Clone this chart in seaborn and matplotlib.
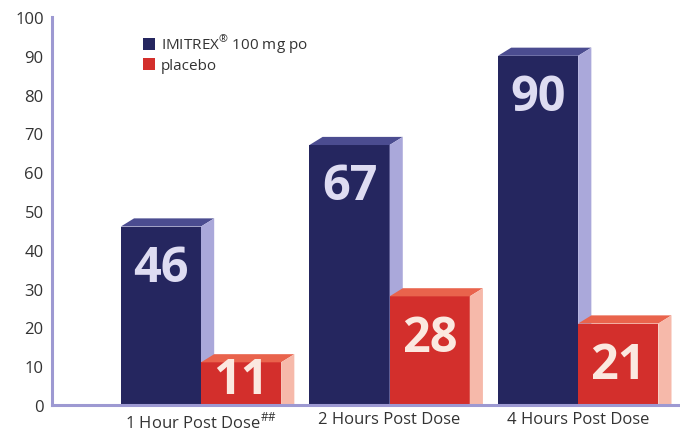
import pandas as pd
import matplotlib.pyplot as plt
import seaborn as sns
from matplotlib.patches import Polygon

# Data
timepoints = ["1 Hour Post Dose$^{\\#\\#}$", "2 Hours Post Dose", "4 Hours Post Dose"]
imitrex = [46, 67, 90]
placebo = [11, 28, 21]
groups = ["IMITREX$^{\\circledR}$ 100 mg po", "placebo"]

# colours: front face, top face, side face, label colour
navy = ["#25265f", "#4b4c90", "#aaa8da", "#dedcf2"]
red = ["#d32f2c", "#e9634c", "#f6b9aa", "#fbe9e0"]
styles = [navy, red]

df = pd.DataFrame({
    "time": timepoints * 2,
    "group": [groups[0]] * 3 + [groups[1]] * 3,
    "value": imitrex + placebo,
})

sns.set_style("white")
plt.rcParams["font.family"] = ["Open Sans", "DejaVu Sans"]
plt.rcParams["mathtext.fontset"] = "custom"
plt.rcParams["mathtext.rm"] = "Open Sans"

fig = plt.figure(figsize=(6.8, 4.31), dpi=100)
ax = fig.add_axes([52 / 680, 25 / 431, 628 / 680, 388 / 431])

sns.barplot(data=df, x="time", y="value", hue="group", palette=[navy[0], red[0]],
            width=0.85, saturation=1, dodge=True, ax=ax, linewidth=0)

ax.set_xlim(-0.79, 2.54)
ax.set_ylim(0, 100)

# fake 3D depth for each bar
dx, dy = 0.07, 2.1
for i, cont in enumerate(ax.containers):
    front, top, side, lab = styles[i]
    for rect in cont:
        rect.set_zorder(2 + i * 2)
        x0, w, h = rect.get_x(), rect.get_width(), rect.get_height()
        ax.add_patch(Polygon([(x0, h), (x0 + dx, h + dy), (x0 + w + dx, h + dy), (x0 + w, h)],
                             closed=True, facecolor=top, edgecolor="none", zorder=2 + i * 2, clip_on=False))
        ax.add_patch(Polygon([(x0 + w, 0), (x0 + w + dx, 0), (x0 + w + dx, h + dy), (x0 + w, h)],
                             closed=True, facecolor=side, edgecolor="none", zorder=2 + i * 2, clip_on=False))
        ax.text(x0 + w / 2, max(h - 14, 3), f"{h:.0f}", ha="center", va="baseline",
                fontsize=35, fontweight="bold", color=lab, zorder=3 + i * 2)

ax.set_yticks(range(0, 101, 10))
ax.tick_params(axis="both", length=0, labelsize=12, labelcolor="#333333")
ax.tick_params(axis="y", pad=6)
ax.tick_params(axis="x", pad=4)
ax.set_xlabel("")
ax.set_ylabel("")

for side in ["top", "right"]:
    ax.spines[side].set_visible(False)
for side in ["left", "bottom"]:
    ax.spines[side].set_color("#9d99d2")
    ax.spines[side].set_linewidth(2.2)
    ax.spines[side].set_zorder(10)

leg = ax.legend(loc="upper left", bbox_to_anchor=(0.135, 0.975), frameon=False,
                fontsize=11, handlelength=0.8, handleheight=0.8, handletextpad=0.4,
                labelspacing=0.2, borderaxespad=0)
for t in leg.get_texts():
    t.set_color("#333333")

fig.savefig("out.png", dpi=100)
